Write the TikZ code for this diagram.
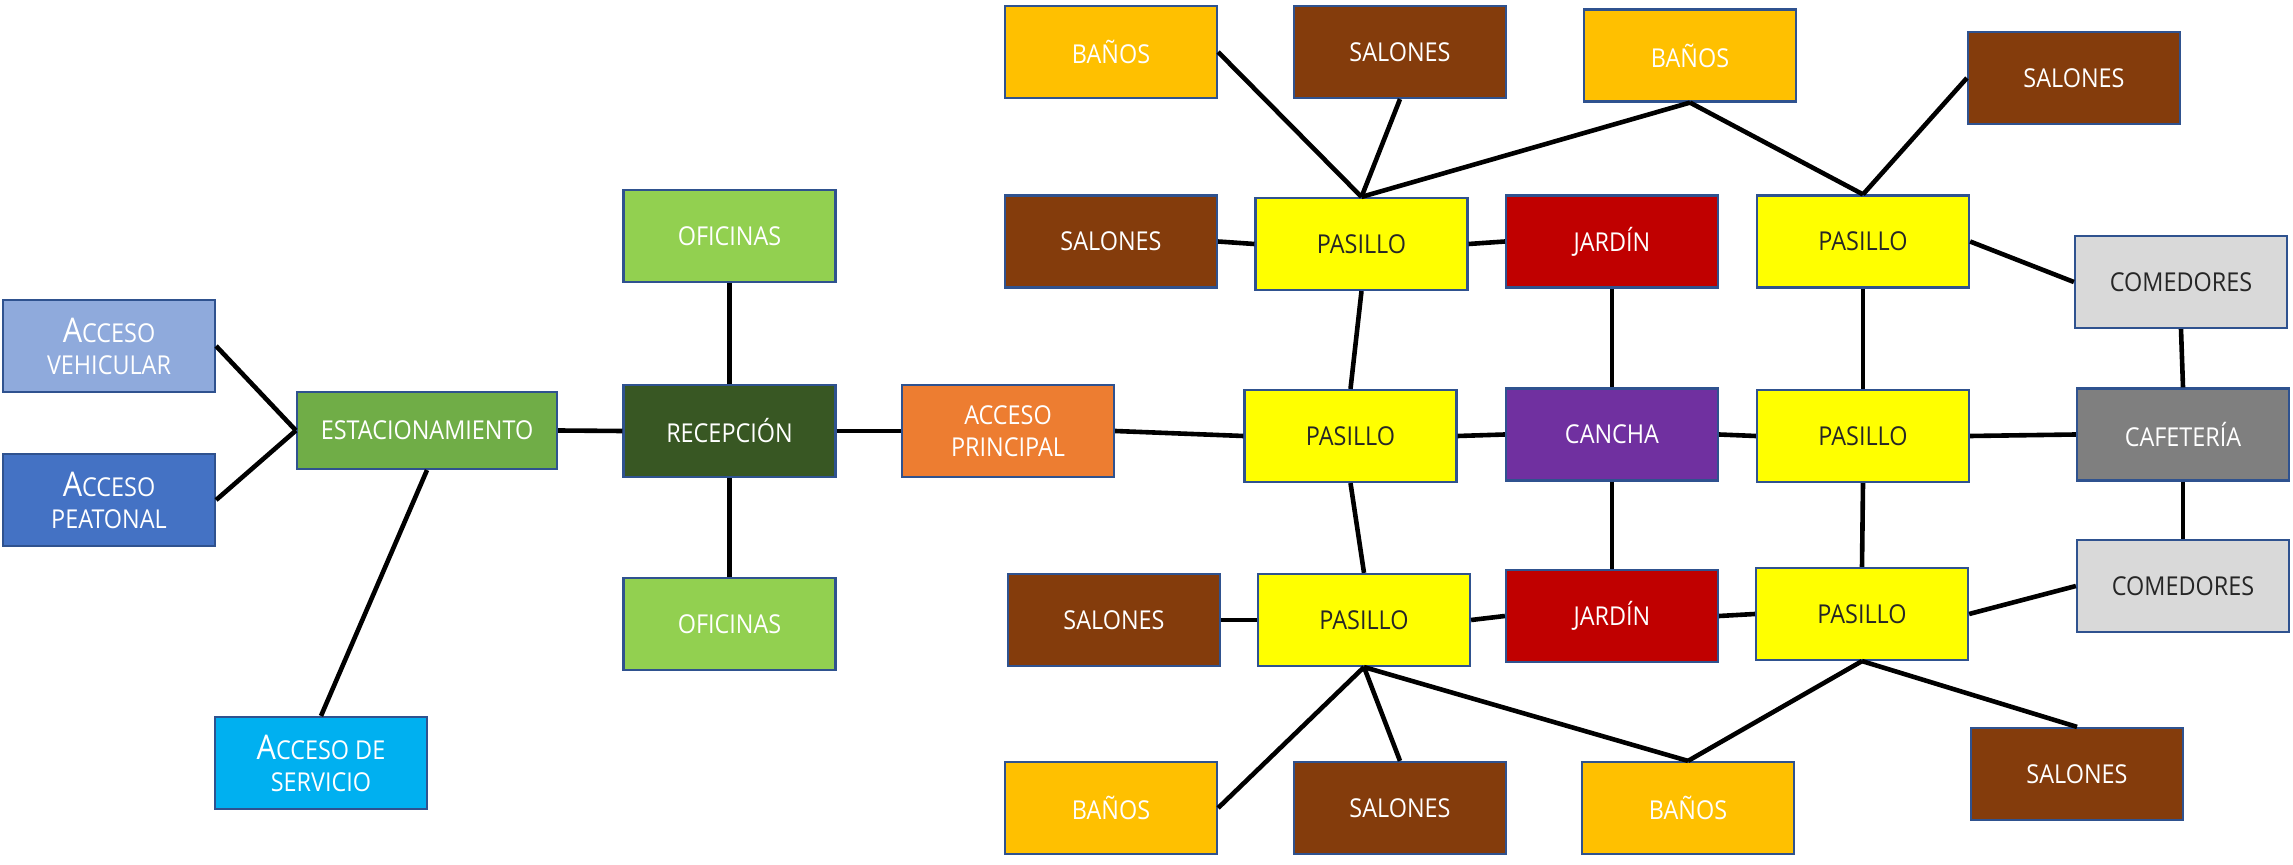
\documentclass[tikz,border=0pt]{standalone}
\usepackage{fontspec}
\setmainfont{Open Sans}[FakeStretch=0.9]
\definecolor{bord}{HTML}{2F528F}
\definecolor{cveh}{HTML}{8FAADC}
\definecolor{cpeat}{HTML}{4472C4}
\definecolor{cest}{HTML}{70AD47}
\definecolor{cserv}{HTML}{00B0F0}
\definecolor{cofi}{HTML}{92D050}
\definecolor{crec}{HTML}{385723}
\definecolor{cacc}{HTML}{ED7D31}
\definecolor{cban}{HTML}{FFC000}
\definecolor{csal}{HTML}{843C0C}
\definecolor{cpas}{HTML}{FFFF00}
\definecolor{cjar}{HTML}{C00000}
\definecolor{ccan}{HTML}{7030A0}
\definecolor{ccom}{HTML}{D9D9D9}
\definecolor{ccaf}{HTML}{7F7F7F}
\definecolor{dtext}{HTML}{262626}
\newcommand{\bigA}[1]{{\fontsize{17}{18}\selectfont #1}}
\begin{document}
\begin{tikzpicture}[x=0.5pt,y=-0.5pt,
  box/.style={draw=bord,line width=1.1pt,minimum width=106pt,minimum height=46pt,inner sep=0pt,align=center,font=\fontsize{13}{16}\selectfont,text=white},
  dark/.style={box,text=dtext},
  link/.style={line width=2.3pt,black}]
\useasboundingbox (0,0) rectangle (2293,865);
% left part
\node[box,fill=cveh] (accveh) at (109,346) {\bigA{A}CCESO\\VEHICULAR};
\node[box,fill=cpeat] (accpeat) at (109,500) {\bigA{A}CCESO\\PEATONAL};
\node[box,fill=cest,minimum width=130pt,minimum height=38.5pt] (estac) at (427,430.5) {ESTACIONAMIENTO};
\node[box,fill=cserv] (accserv) at (321,763) {\bigA{A}CCESO DE\\SERVICIO};
\node[box,fill=cofi] (ofi1) at (729.5,236) {OFICINAS};
\node[box,fill=crec] (recep) at (729.5,431) {RECEPCIÓN};
\node[box,fill=cofi] (ofi2) at (729.5,624) {OFICINAS};
\node[box,fill=cacc] (accpr) at (1008,431) {ACCESO\\PRINCIPAL};
% top row
\node[box,fill=cban] (banTL) at (1111,52) {BAÑOS};
\node[box,fill=csal] (salT) at (1400,52) {SALONES};
\node[box,fill=cban] (banTR) at (1690,55.5) {BAÑOS};
\node[box,fill=csal] (salTR) at (2074,78) {SALONES};
% second row
\node[box,fill=csal] (salL2) at (1111,241.5) {SALONES};
\node[dark,fill=cpas] (pasA) at (1361.5,244) {PASILLO};
\node[box,fill=cjar] (jarT) at (1612,241.5) {JARDÍN};
\node[dark,fill=cpas] (pasB) at (1863,241.5) {PASILLO};
\node[dark,fill=ccom] (comT) at (2181,282) {COMEDORES};
% middle row
\node[dark,fill=cpas] (pasC) at (1350.5,436) {PASILLO};
\node[box,fill=ccan] (cancha) at (1612,434.5) {CANCHA};
\node[dark,fill=cpas] (pasD) at (1863,436) {PASILLO};
\node[box,fill=ccaf] (cafe) at (2183,434.5) {CAFETERÍA};
% fourth row
\node[box,fill=csal] (salL4) at (1114,620) {SALONES};
\node[dark,fill=cpas] (pasE) at (1364,620) {PASILLO};
\node[box,fill=cjar] (jarB) at (1612,616) {JARDÍN};
\node[dark,fill=cpas] (pasF) at (1862,614) {PASILLO};
\node[dark,fill=ccom] (comB) at (2183,586) {COMEDORES};
% bottom row
\node[box,fill=cban] (banBL) at (1111,808) {BAÑOS};
\node[box,fill=csal] (salB) at (1400,808) {SALONES};
\node[box,fill=cban] (banBR) at (1688,808) {BAÑOS};
\node[box,fill=csal] (salBR) at (2077,774) {SALONES};
% connectors
\draw[link] (accveh.east) -- (estac.west);
\draw[link] (accpeat.east) -- (estac.west);
\draw[link] (estac.south) -- (accserv.north);
\draw[link] (estac.east) -- (recep.west);
\draw[link] (ofi1.south) -- (recep.north);
\draw[link] (recep.south) -- (ofi2.north);
\draw[link] (recep.east) -- (accpr.west);
\draw[link] (accpr.east) -- (pasC.west);
\draw[link] (banTL.east) -- (pasA.north);
\draw[link] (salT.south) -- (pasA.north);
\draw[link] (banTR.south) -- (pasA.north);
\draw[link] (banTR.south) -- (pasB.north);
\draw[link] (salTR.west) -- (pasB.north);
\draw[link] (salL2.east) -- (pasA.west);
\draw[link] (pasA.east) -- (jarT.west);
\draw[link] (pasA.south) -- (pasC.north);
\draw[link] (jarT.south) -- (cancha.north);
\draw[link] (pasB.south) -- (pasD.north);
\draw[link] (pasB.east) -- (comT.west);
\draw[link] (comT.south) -- (cafe.north);
\draw[link] (pasC.east) -- (cancha.west);
\draw[link] (cancha.east) -- (pasD.west);
\draw[link] (pasD.east) -- (cafe.west);
\draw[link] (cafe.south) -- (comB.north);
\draw[link] (pasC.south) -- (pasE.north);
\draw[link] (cancha.south) -- (jarB.north);
\draw[link] (pasD.south) -- (pasF.north);
\draw[link] (salL4.east) -- (pasE.west);
\draw[link] (pasE.east) -- (jarB.west);
\draw[link] (jarB.east) -- (pasF.west);
\draw[link] (pasF.east) -- (comB.west);
\draw[link] (pasE.south) -- (banBL.east);
\draw[link] (pasE.south) -- (salB.north);
\draw[link] (pasE.south) -- (banBR.north);
\draw[link] (pasF.south) -- (banBR.north);
\draw[link] (pasF.south) -- (salBR.north);
\end{tikzpicture}
\end{document}
